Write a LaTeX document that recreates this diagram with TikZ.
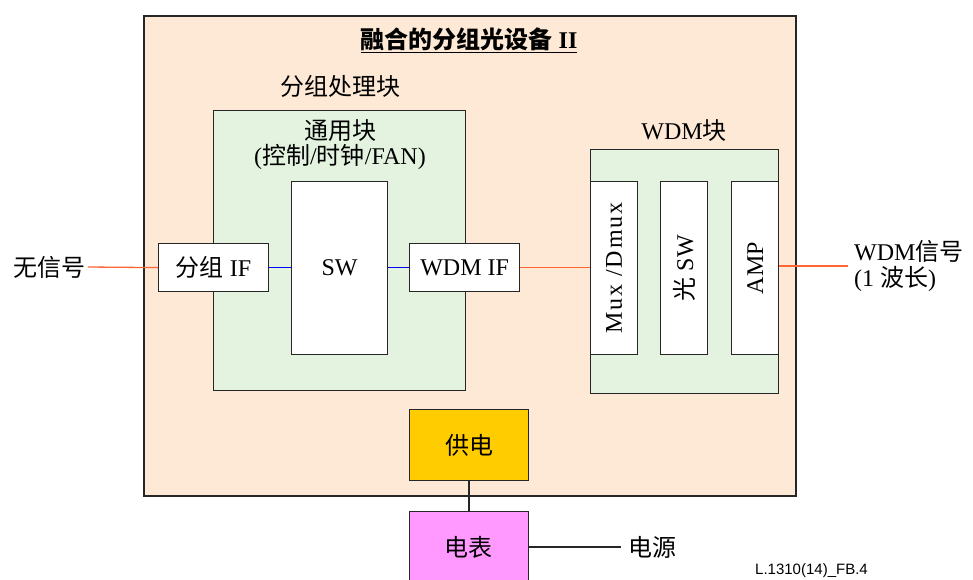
\documentclass[tikz,border=0pt]{standalone}
\usepackage{fontspec}
\setmainfont{Liberation Serif}
\newfontfamily\cjk{Noto Sans CJK SC}
\newfontfamily\lsans{Liberation Sans}
\newfontfamily\spaced[LetterSpace=8]{Liberation Serif}
\definecolor{peach}{HTML}{FEE9D7}
\definecolor{mint}{HTML}{E3F3E0}
\definecolor{sig}{HTML}{FF6633}
\definecolor{bus}{HTML}{0000FF}
\definecolor{pwr}{HTML}{FFCC00}
\definecolor{meter}{HTML}{FF99FF}
\begin{document}
\begin{tikzpicture}[x=1pt,y=-1pt,
  every node/.style={font=\fontsize{24}{26}\selectfont, inner sep=0pt},
  blk/.style={draw=black!85, line width=1.2pt, rectangle, anchor=north west},
  wbox/.style={blk, fill=white},
  sigline/.style={draw=sig, line width=1.3pt},
  busline/.style={draw=bus, line width=1.3pt},
  pline/.style={draw=black!85, line width=1.3pt}]
\useasboundingbox (0,0) rectangle (973,579);
% outer device
\node[blk, fill=peach, line width=1.5pt, minimum width=652pt, minimum height=480pt] (dev) at (143,15) {};
\node (title) at (469,40) {\bfseries\underline{{\cjk 融合的分组光设备} II}};
\node (pblk) at (340,86) {\cjk 分组处理块};
% common block
\node[blk, fill=mint, minimum width=252pt, minimum height=280pt] (common) at (213,110) {};
\node (commontxt) at (340,131) {\cjk 通用块};
\node (commontxtb) at (340,157) {({\cjk 控制}/{\cjk 时钟}/FAN)};
\node[wbox, minimum width=96pt, minimum height=173pt] (sw) at (291,181) {};
\node (swtxt) at (sw.center) {SW};
\node[wbox, minimum width=110pt, minimum height=48pt] (pif) at (158,243) {};
\node (piftxt) at (pif.center) {{\cjk 分组} IF};
\node[wbox, minimum width=110pt, minimum height=48pt] (wif) at (409,243) {};
\node (wiftxt) at (wif.center) {WDM IF};
% WDM block
\node (wdmtxt) at (684,131) {WDM{\cjk 块}};
\node[blk, fill=mint, minimum width=188pt, minimum height=244pt] (wdm) at (590,149) {};
\node[wbox, minimum width=47pt, minimum height=173pt] (mux) at (590,181) {};
\node[rotate=90] (muxtxt) at (mux.center) {\spaced Mux /Dmux};
\node[wbox, minimum width=47pt, minimum height=173pt] (osw) at (660,181) {};
\node[rotate=90] (oswtxt) at (osw.center) {{\cjk 光} SW};
\node[wbox, minimum width=47pt, minimum height=173pt] (amp) at (731,181) {};
\node[rotate=90] (amptxt) at (amp.center) {AMP};
% power
\node[blk, fill=pwr, minimum width=119pt, minimum height=71pt] (psu) at (409,409) {};
\node (psutxt) at (psu.center) {\cjk 供电};
\node[blk, fill=meter, minimum width=119pt, minimum height=80pt] (mtr) at (409,511) {};
\node (mtrtxt) at (468,547) {\cjk 电表};
% external labels
\node[anchor=east] (nosig) at (86,267) {\cjk 无信号};
\node[anchor=west, align=left] (wsig) at (854,266) {WDM{\cjk 信号}\\(1 {\cjk 波长})};
\node[anchor=west] (src) at (628,547) {\cjk 电源};
\node[anchor=base west, font=\lsans\fontsize{15}{17}\selectfont] (fig) at (755,574) {L.1310(14)\_FB.4};
% connectors
\draw[sigline] (nosig.east) ++(2pt,0) coordinate (nosigend) -- (pif.west);
\draw[busline] (pif.east) -- (sw.west |- pif.east);
\draw[busline] (sw.east |- wif.west) -- (wif.west);
\draw[sigline] (wif.east) -- (mux.west |- wif.east);
\draw[sigline] (amp.east |- wsig.west) -- ([xshift=-6pt]wsig.west);
\draw[pline] (psu.south) -- (mtr.north -| psu.south);
\draw[pline] (mtr.east |- src.west) -- ([xshift=-7pt]src.west);
\end{tikzpicture}
\end{document}
